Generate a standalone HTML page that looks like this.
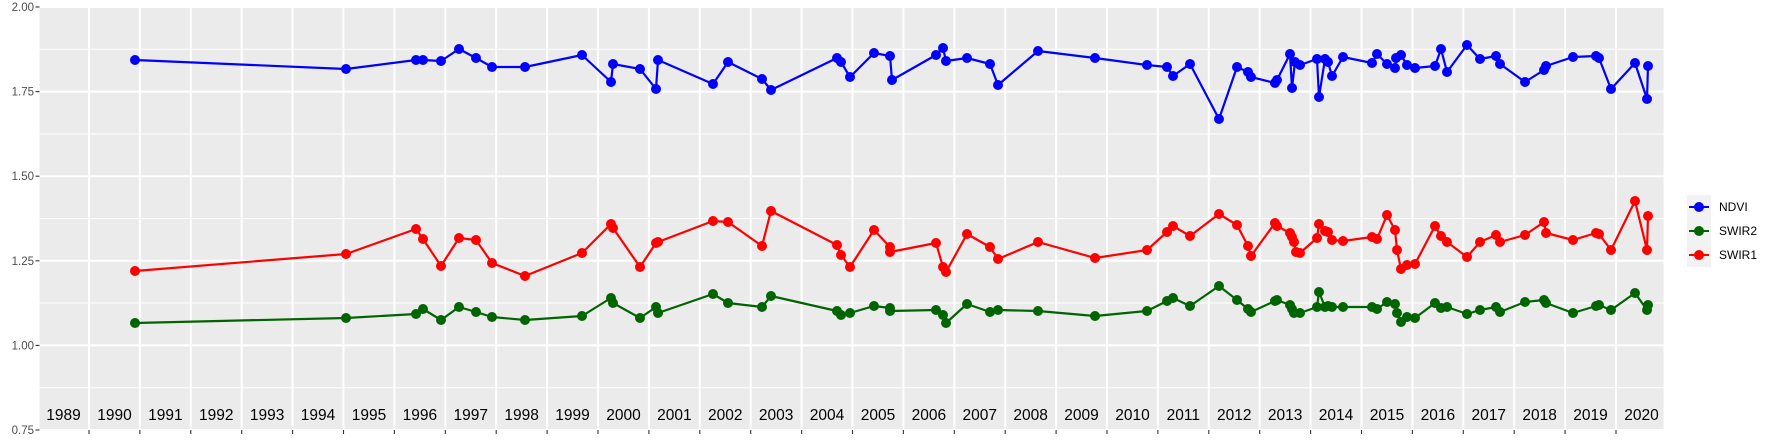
<!DOCTYPE html>
<html><head><meta charset="utf-8"><style>
html,body{margin:0;padding:0;background:#fff;}
svg{display:block;font-family:"Liberation Sans",sans-serif;}
</style></head><body>
<svg width="1773" height="442" viewBox="0 0 1773 442" xmlns="http://www.w3.org/2000/svg">
<rect x="39.5" y="7" width="1624" height="423" fill="#ebebeb"/>
<g stroke="#fff" stroke-width="1">
<line x1="39.5" x2="1663.5" y1="49.3" y2="49.3"/><line x1="39.5" x2="1663.5" y1="134" y2="134"/>
<line x1="39.5" x2="1663.5" y1="218.5" y2="218.5"/><line x1="39.5" x2="1663.5" y1="303" y2="303"/>
<line x1="39.5" x2="1663.5" y1="387.7" y2="387.7"/>
</g>
<g stroke="#fff" stroke-width="2">
<line x1="39.5" x2="1663.5" y1="7" y2="7"/><line x1="39.5" x2="1663.5" y1="91.6" y2="91.6"/>
<line x1="39.5" x2="1663.5" y1="176.2" y2="176.2"/><line x1="39.5" x2="1663.5" y1="260.8" y2="260.8"/>
<line x1="39.5" x2="1663.5" y1="345.4" y2="345.4"/><line x1="39.5" x2="1663.5" y1="430" y2="430"/>
</g>
<g id="vg" stroke="#fff" stroke-width="2"></g>
<g id="ticks" stroke="#333" stroke-width="1.1"></g>
<g id="labels" font-size="15.5" fill="#000" text-anchor="middle"></g>
<g font-size="11.5" fill="#4d4d4d" text-anchor="end">
<text x="34" y="11">2.00</text><text x="34" y="95.6">1.75</text><text x="34" y="180.2">1.50</text>
<text x="34" y="264.8">1.25</text><text x="34" y="349.4">1.00</text><text x="34" y="434">0.75</text>
</g>
<g stroke="#333" stroke-width="1.1">
<line x1="35.5" x2="39.5" y1="7" y2="7"/><line x1="35.5" x2="39.5" y1="91.6" y2="91.6"/>
<line x1="35.5" x2="39.5" y1="176.2" y2="176.2"/><line x1="35.5" x2="39.5" y1="260.8" y2="260.8"/>
<line x1="35.5" x2="39.5" y1="345.4" y2="345.4"/><line x1="35.5" x2="39.5" y1="430" y2="430"/>
</g>
<g id="series"></g>
<rect x="1687" y="195" width="24" height="72" fill="#f2f2f2"/>
<line x1="1689" x2="1709" y1="207" y2="207" stroke="#0000ff" stroke-width="2"/><circle cx="1699" cy="207" r="5" fill="#0000ff"/>
<line x1="1689" x2="1709" y1="231" y2="231" stroke="#006400" stroke-width="2"/><circle cx="1699" cy="231" r="5" fill="#006400"/>
<line x1="1689" x2="1709" y1="255" y2="255" stroke="#ff0000" stroke-width="2"/><circle cx="1699" cy="255" r="5" fill="#ff0000"/>
<g font-size="12" fill="#000"><text x="1719" y="211">NDVI</text><text x="1719" y="235">SWIR2</text><text x="1719" y="259">SWIR1</text></g>
</svg>
<script>
var NS="http://www.w3.org/2000/svg";
var vg=document.getElementById('vg'),tk=document.getElementById('ticks'),lb=document.getElementById('labels');
for(var y=1990;y<=2020;y++){var x=89+(y-1990)*50.9;
var l=document.createElementNS(NS,'line');l.setAttribute('x1',x);l.setAttribute('x2',x);l.setAttribute('y1',7);l.setAttribute('y2',430);vg.appendChild(l);
var t=document.createElementNS(NS,'line');t.setAttribute('x1',x);t.setAttribute('x2',x);t.setAttribute('y1',430);t.setAttribute('y2',434);tk.appendChild(t);}
for(var y=1989;y<=2020;y++){var x=89+(y-1990)*50.9+25.45;var tx=document.createElementNS(NS,'text');tx.setAttribute('x',x);tx.setAttribute('y',420);tx.textContent=y;lb.appendChild(tx);}
var ndvi=[[135,60],[346,69],[416,60],[423,60],[441,61],[459,49],[476,58],[492,67],[525,67],[582,55],[611,82],[613,64],[640,69],[656,89],[658,60],[713,84],[728,62],[762,79],[771,90],[837,58],[841,62],[850,77],[874,53],[890,56],[892,80],[936,55],[943,48],[946,61],[967,58],[990,64],[998,85],[1038,51],[1095,58],[1147,65],[1167,67],[1173,76],[1190,64],[1219,119],[1237,67],[1248,72],[1251,77],[1275,83],[1277,80],[1290,54],[1292,88],[1295,62],[1300,65],[1317,59],[1319,97],[1325,59],[1328,62],[1332,76],[1343,57],[1372,63],[1377,54],[1387,64],[1395,68],[1396,58],[1401,55],[1407,65],[1415,68],[1435,66],[1441,49],[1447,72],[1467,45],[1480,59],[1496,56],[1500,64],[1525,82],[1544,70],[1546,66],[1573,57],[1596,56],[1599,58],[1611,89],[1635,63],[1647,99],[1648,66]];
var sw1=[[135,271],[346,254],[416,229],[423,239],[441,266],[459,238],[476,240],[492,263],[525,276],[582,253],[611,224],[613,228],[640,267],[656,243],[658,242],[713,221],[728,222],[762,246],[771,211],[837,245],[841,255],[850,267],[874,230],[890,247],[890,252],[936,243],[943,267],[946,272],[967,234],[990,247],[998,259],[1038,242],[1095,258],[1147,250],[1167,232],[1173,226],[1190,236],[1219,214],[1237,225],[1248,246],[1251,256],[1275,223],[1277,226],[1290,233],[1292,237],[1294,242],[1296,252],[1300,253],[1317,238],[1319,224],[1325,231],[1328,232],[1332,240],[1343,241],[1372,237],[1377,239],[1387,215],[1395,230],[1397,250],[1401,269],[1407,265],[1415,264],[1435,226],[1441,236],[1447,242],[1467,257],[1480,242],[1496,235],[1500,242],[1525,235],[1544,222],[1546,233],[1573,240],[1596,233],[1599,234],[1611,250],[1635,201],[1647,250],[1648,216]];
var sw2=[[135,323],[346,318],[416,314],[423,309],[441,320],[459,307],[476,312],[492,317],[525,320],[582,316],[611,298],[613,303],[640,318],[656,307],[658,313],[713,294],[728,303],[762,307],[771,296],[837,311],[841,315],[850,313],[874,306],[890,308],[890,311],[936,310],[943,315],[946,323],[967,304],[990,312],[998,310],[1038,311],[1095,316],[1147,311],[1167,301],[1173,298],[1190,306],[1219,286],[1237,300],[1248,309],[1251,312],[1275,301],[1277,300],[1290,305],[1292,309],[1294,313],[1300,313],[1317,307],[1319,292],[1325,307],[1328,306],[1332,307],[1343,307],[1372,307],[1377,309],[1387,302],[1395,304],[1397,313],[1401,322],[1407,317],[1415,318],[1435,303],[1441,308],[1447,307],[1467,314],[1480,310],[1496,307],[1500,312],[1525,302],[1544,300],[1546,303],[1573,313],[1596,306],[1599,305],[1611,310],[1635,293],[1647,310],[1648,305]];
var g=document.getElementById('series');
function draw(d,c){var p=document.createElementNS(NS,'polyline');p.setAttribute('points',d.map(function(a){return a.join(',')}).join(' '));p.setAttribute('fill','none');p.setAttribute('stroke',c);p.setAttribute('stroke-width','2.2');p.setAttribute('stroke-linejoin','round');g.appendChild(p);
d.forEach(function(a){var ci=document.createElementNS(NS,'circle');ci.setAttribute('cx',a[0]);ci.setAttribute('cy',a[1]);ci.setAttribute('r',5);ci.setAttribute('fill',c);g.appendChild(ci);});}
draw(ndvi,'#0000ff');draw(sw2,'#006400');draw(sw1,'#ff0000');
</script>
</body></html>
